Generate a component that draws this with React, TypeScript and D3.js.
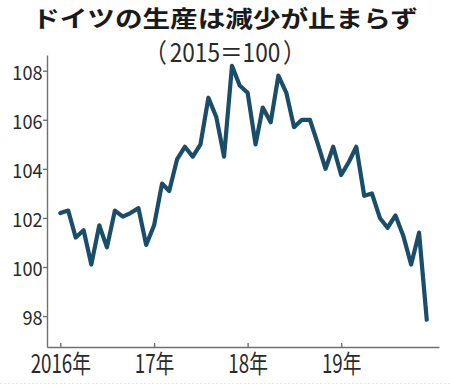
import React, { useRef, useEffect } from "react";
import * as d3 from "d3";

// Industrial production index, 2015 = 100, monthly
const prod2016 = [102.2, 102.3, 101.2, 101.5, 100.1, 101.7, 100.8, 102.3, 102.05, 102.2, 102.4, 100.9];
const prod2017 = [101.7, 103.4, 103.1, 104.4, 104.9, 104.5, 105.0, 106.9, 106.1, 104.5, 108.2, 107.4];
const prod2018 = [107.1, 105.0, 106.5, 105.9, 107.8, 107.1, 105.7, 106.0, 106.0, 105.05, 104.0, 104.9];
const prod2019 = [103.75, 104.3, 104.9, 102.9, 103.0, 102.0, 101.6, 102.1, 101.25, 100.1, 101.4, 97.85];

const years = [2016, 2017, 2018, 2019];
const xTickLabels = ["2016年", "17年", "18年", "19年"];
const yTicks = [98, 100, 102, 104, 106, 108];

const title = "ドイツの生産は減少が止まらず";
const subtitleParts = ["（", "2015＝100", "）"];

const FONT = "'Noto Sans CJK JP', 'Noto Sans', sans-serif";
const LINE = "#1a4d69";
const AXIS = "#707070";

const App = () => {
  const svgRef = useRef<SVGSVGElement>(null);

  useEffect(() => {
    const svg = d3.select(svgRef.current);
    const width = 450;
    const height = 387;
    svg.attr("width", width).attr("height", height);
    svg.selectAll("*").remove();

    const series = [prod2016, prod2017, prod2018, prod2019].flatMap((vals, yi) =>
      vals.map((v, m) => ({ date: new Date(years[yi], m, 1), value: v }))
    );

    // x: Jan 2016 .. Jan 2020, then widened to the drawn axis extent
    const xBase = d3
      .scaleTime()
      .domain([new Date(2016, 0, 1), new Date(2020, 0, 1)])
      .range([60.3, 434.7]);
    const x = d3
      .scaleTime()
      .domain([xBase.invert(47), xBase.invert(439)])
      .range([47, 439]);

    const y = d3.scaleLinear().domain([96.74, 108.64]).range([347, 55]);

    // title
    svg
      .append("text")
      .attr("transform", "translate(225,27) scale(1.2,1)")
      .attr("text-anchor", "middle")
      .attr("font-family", FONT)
      .attr("font-weight", 700)
      .attr("font-size", 23)
      .attr("fill", "#1a1a1a")
      .text(title);

    // subtitle, in three pieces so the full-width parentheses keep their room
    const sub = [
      { t: subtitleParts[0], x: 167, anchor: "end" },
      { t: subtitleParts[1], x: 225, anchor: "middle" },
      { t: subtitleParts[2], x: 283, anchor: "start" },
    ];
    svg
      .selectAll("text.sub")
      .data(sub)
      .enter()
      .append("text")
      .attr("class", "sub")
      .attr("transform", (d) => `translate(${d.x},62) scale(0.87,1)`)
      .attr("text-anchor", (d) => d.anchor)
      .attr("font-family", FONT)
      .attr("font-size", 26)
      .attr("fill", "#2a2a2a")
      .text((d) => d.t);

    // faint dotted frame line at the bottom
    svg
      .append("line")
      .attr("x1", 0)
      .attr("x2", width)
      .attr("y1", 383.5)
      .attr("y2", 383.5)
      .attr("stroke", "#e6e6e6")
      .attr("stroke-dasharray", "2,2");

    // y axis
    const yAxis = svg
      .append("g")
      .attr("transform", "translate(47,0)")
      .call(d3.axisLeft(y).tickValues(yTicks).tickSize(4).tickSizeOuter(0).tickPadding(5));
    yAxis.select(".domain").attr("stroke", AXIS).attr("stroke-width", 1.4);
    yAxis.selectAll(".tick line").attr("stroke", AXIS).attr("stroke-width", 1.4);
    yAxis
      .selectAll(".tick text")
      .attr("x", null)
      .attr("dy", null)
      .attr("transform", "translate(-4.5,8.5) scale(0.93,1)")
      .attr("font-family", FONT)
      .attr("font-size", 19.5)
      .attr("fill", "#2a2a2a");

    // x axis
    const xAxis = svg
      .append("g")
      .attr("transform", "translate(0,347)")
      .call(
        d3
          .axisBottom(x)
          .tickValues(years.map((yr) => new Date(yr, 0, 1)))
          .tickFormat((_, i) => xTickLabels[i])
          .tickSize(-4)
          .tickSizeOuter(0)
      );
    xAxis.select(".domain").attr("stroke", AXIS).attr("stroke-width", 1.4);
    xAxis.selectAll(".tick line").attr("stroke", AXIS).attr("stroke-width", 1.4);
    xAxis
      .selectAll(".tick text")
      .attr("y", null)
      .attr("dy", null)
      .attr("transform", "translate(0,26) scale(0.75,1)")
      .attr("font-family", FONT)
      .attr("font-size", 25)
      .attr("fill", "#2a2a2a");

    const line = d3
      .line<{ date: Date; value: number }>()
      .x((d) => x(d.date))
      .y((d) => y(d.value));

    svg
      .append("path")
      .datum(series)
      .attr("d", line)
      .attr("fill", "none")
      .attr("stroke", LINE)
      .attr("stroke-width", 4.2)
      .attr("stroke-linejoin", "round")
      .attr("stroke-linecap", "round");
  }, []);

  return <svg ref={svgRef} style={{ position: "absolute", left: 0, top: 0 }} />;
};

export default App;
